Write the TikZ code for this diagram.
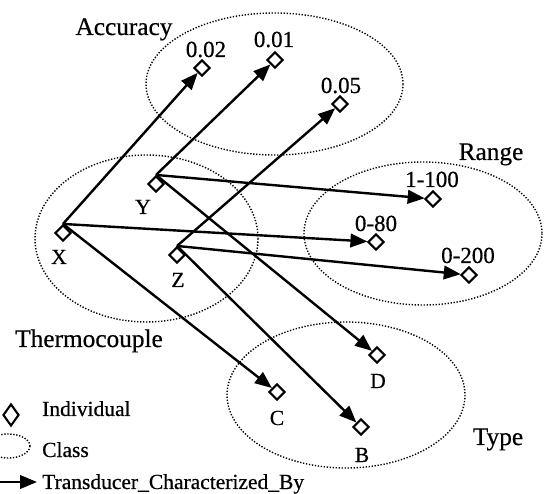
\documentclass[tikz,border=0pt]{standalone}
\usepackage{fontspec}
\setmainfont{Liberation Serif}
\newfontfamily\lfont{Liberation Serif}[FakeBold=0.5]
\usetikzlibrary{shapes.geometric,arrows.meta}
\tikzset{
  indiv/.style={draw,diamond,fill=white,inner sep=0pt,minimum width=16pt,minimum height=16pt,line width=2.1pt},
  cls/.style={draw,line width=1.4pt,dash pattern=on 1.3pt off 1.7pt},
  rel/.style={line width=2.4pt,-{Triangle[length=17pt,width=13.5pt]}},
  vlab/.style={anchor=base,inner sep=0pt,font=\lfont\fontsize{23}{23}\selectfont},
  llab/.style={anchor=base,inner sep=0pt,font=\lfont\fontsize{21.5}{21.5}\selectfont},
  clab/.style={anchor=base,inner sep=0pt,font=\lfont\fontsize{25.3}{25.3}\selectfont},
  leg/.style={anchor=base west,inner sep=0pt,font=\lfont\fontsize{21.5}{21.5}\selectfont}
}
\begin{document}
\begin{tikzpicture}[x=1pt,y=-1pt]
\useasboundingbox (0,0) rectangle (544,494);
% classes
\draw[cls] (274.5,84) ellipse [x radius=128.5, y radius=71];
\draw[cls] (146.5,238.5) ellipse [x radius=111.5, y radius=83.5];
\draw[cls] (423,233.5) ellipse [x radius=119, y radius=71.5];
\draw[cls] (346,395) ellipse [x radius=119, y radius=73];
% class labels
\node[clab] (lacc) at (124,35) {Accuracy};
\node[clab] (lrng) at (491,160) {Range};
\node[clab] (lthc) at (89,347) {Thermocouple};
\node[clab] (ltyp) at (498,445) {Type};
% individuals
\node[indiv] (a002) at (202,68) {};
\node[indiv] (a001) at (275,60) {};
\node[indiv] (a005) at (340,104) {};
\node[indiv] (X) at (63,233) {};
\node[indiv] (Y) at (156,184) {};
\node[indiv] (Z) at (177,255) {};
\node[indiv] (r1100) at (433,199) {};
\node[indiv] (r080) at (376,242) {};
\node[indiv] (r0200) at (469,275) {};
\node[indiv] (D) at (377,355) {};
\node[indiv] (C) at (277,392) {};
\node[indiv] (B) at (361,427) {};
% individual labels
\node[vlab] (t002) at (206,57) {0.02};
\node[vlab] (t001) at (274,47) {0.01};
\node[vlab] (t005) at (341,93) {0.05};
\node[vlab] (t1100) at (432,187) {1-100};
\node[vlab] (t080) at (376,231) {0-80};
\node[vlab] (t0200) at (468,263) {0-200};
\node[llab] (tX) at (59,264) {X};
\node[llab] (tY) at (143,214) {Y};
\node[llab] (tZ) at (178,287) {Z};
\node[llab] (tD) at (378,388) {D};
\node[llab] (tC) at (277,425) {C};
\node[llab] (tB) at (362,462) {B};
% relations
\draw[rel] (X.north) -- (a002);
\draw[rel] (X.north) -- (r080);
\draw[rel] (X.north) -- (C);
\draw[rel] (Y.north) -- (a001);
\draw[rel] (Y.north) -- (r1100);
\draw[rel] (Y.north) -- (D);
\draw[rel] (Z.north) -- (a005);
\draw[rel] (Z.north) -- (r0200);
\draw[rel] (Z.north) -- (B);
% legend
\node[draw,diamond,inner sep=0pt,minimum width=16pt,minimum height=22pt,line width=2.1pt] (legd) at (11,415) {};
\node[leg] (legdt) at (42,416) {Individual};
\draw[cls] (8,446) ellipse [x radius=22, y radius=12];
\node[leg] (legct) at (42,457) {Class};
\coordinate (la0) at (0,482);
\coordinate (la1) at (37,482);
\draw[rel] (la0) -- (la1);
\node[leg] (legat) at (42,489) {Transducer\_Characterized\_By};
\end{tikzpicture}
\end{document}
